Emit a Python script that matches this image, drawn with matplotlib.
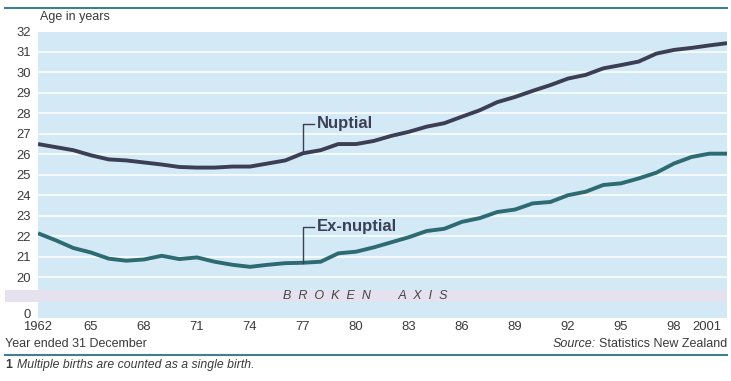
import matplotlib
matplotlib.use("Agg")
import matplotlib.pyplot as plt
import matplotlib.transforms as mtransforms
from matplotlib.patches import Rectangle
from matplotlib.lines import Line2D

# Median age of mothers, New Zealand, 1962-2001
years = list(range(1962, 2002))
nuptial = [26.5, 26.35, 26.2, 25.95, 25.75, 25.7, 25.6, 25.5, 25.38, 25.35,
           25.35, 25.4, 25.4, 25.55, 25.7, 26.05, 26.2, 26.5, 26.5, 26.65,
           26.9, 27.1, 27.35, 27.52, 27.84, 28.15, 28.55, 28.8, 29.1, 29.38,
           29.7, 29.88, 30.2, 30.36, 30.53, 30.92, 31.1, 31.2, 31.32, 31.43]
ex_nuptial = [22.14, 21.8, 21.42, 21.2, 20.9, 20.8, 20.86, 21.04, 20.88, 20.96,
              20.75, 20.6, 20.5, 20.6, 20.68, 20.7, 20.75, 21.16, 21.24, 21.45,
              21.7, 21.95, 22.25, 22.36, 22.7, 22.88, 23.18, 23.3, 23.6, 23.67,
              24.0, 24.17, 24.5, 24.58, 24.82, 25.1, 25.55, 25.87, 26.03, 26.03]

xticks = [1962, 1965, 1968, 1971, 1974, 1977, 1980, 1983, 1986, 1989, 1992, 1995, 1998, 2001]
xlabels = ["1962", "65", "68", "71", "74", "77", "80", "83", "86", "89", "92", "95", "98", "2001"]
ytick_vals = [18.24] + list(range(20, 33))
ytick_labels = ["0"] + [str(v) for v in range(20, 33)]

plt.rcParams["font.family"] = ["Liberation Sans", "DejaVu Sans"]

BG = "#d3eaf6"
NUP = "#3c3f54"
EXN = "#2e6a72"
TEXT = "#3a3a3a"
RULE = "#3f7f8f"

fig = plt.figure(figsize=(7.31, 3.81), dpi=100)
fig.patch.set_facecolor("white")
ax = fig.add_axes([38 / 731, 1 - 318 / 381, 689 / 731, (318 - 31.5) / 381])
ax.set_facecolor(BG)
ax.set_xlim(1962, 2001)
ax.set_ylim(18.0, 32.0)

for v in range(20, 32):
    ax.axhline(v, color="white", lw=1.1, zorder=1)

# broken axis band
trans = mtransforms.blended_transform_factory(ax.transAxes, ax.transData)
band = Rectangle((-33 / 689, 18.78), 1 + 33 / 689, 19.36 - 18.78, transform=trans,
                 facecolor="#e6e1ee", edgecolor="none", clip_on=False, zorder=2)
ax.add_patch(band)
ax.text(0.475, 19.07, "B  R  O  K  E  N        A  X  I  S", transform=trans,
        ha="center", va="center", fontsize=9, style="italic", color="#444444", zorder=3)

ax.plot(years, nuptial, color=NUP, lw=2.8, solid_capstyle="butt", zorder=4)
ax.plot(years, ex_nuptial, color=EXN, lw=2.8, solid_capstyle="butt", zorder=4)

# leader lines and labels
ax.plot([1977, 1977, 1977.6], [26.05, 27.5, 27.5], color=NUP, lw=1, zorder=4)
ax.text(1977.8, 27.5, "Nuptial", ha="left", va="center", fontsize=12,
        fontweight="bold", color=NUP)
ax.plot([1977, 1977, 1977.6], [20.7, 22.45, 22.45], color=NUP, lw=1, zorder=4)
ax.text(1977.8, 22.45, "Ex-nuptial", ha="left", va="center", fontsize=12,
        fontweight="bold", color=NUP)

for s in ax.spines.values():
    s.set_visible(False)
ax.set_xticks(xticks)
ax.set_xticklabels(xlabels)
ax.set_yticks(ytick_vals)
ax.set_yticklabels(ytick_labels)
ax.tick_params(axis="both", length=0, labelsize=9.4, labelcolor=TEXT)
ax.tick_params(axis="y", pad=5)
ax.tick_params(axis="x", pad=2)
last = ax.get_xticklabels()[-1]
last.set_transform(last.get_transform() + mtransforms.ScaledTranslation(-0.2, 0, fig.dpi_scale_trans))

# titles, rules, notes
fig.text(40 / 731, 1 - 17 / 381, "Age in years", ha="left", va="center", fontsize=9, color=TEXT)
fig.add_artist(Line2D([5 / 731, 727 / 731], [1 - 8 / 381, 1 - 8 / 381], color=RULE, lw=1.5))
fig.add_artist(Line2D([5 / 731, 727 / 731], [1 - 355 / 381, 1 - 355 / 381], color=RULE, lw=1.5))
fig.text(5 / 731, 1 - 344 / 381, "Year ended 31 December", ha="left", va="center",
         fontsize=9, color=TEXT)
org = fig.text(727 / 731, 1 - 344 / 381, "Statistics New Zealand", ha="right", va="center",
               fontsize=9, color=TEXT)
fig.canvas.draw()
r = org.get_window_extent()
fig.text((r.x0 - 3) / fig.bbox.width, 1 - 344 / 381, "Source:", ha="right", va="center",
         fontsize=9, style="italic", color=TEXT)
fig.text(5 / 731, 1 - 365 / 381, "1", ha="left", va="center", fontsize=8.8,
         fontweight="bold", color=TEXT)
fig.text(17 / 731, 1 - 365 / 381, "Multiple births are counted as a single birth.",
         ha="left", va="center", fontsize=8.8, style="italic", color=TEXT)

fig.savefig("out.png", dpi=100)
